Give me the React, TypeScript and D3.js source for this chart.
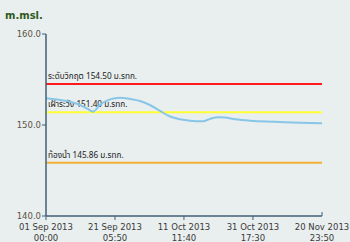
import React from "react";
import * as d3 from "d3";

const W = 350;
const H = 242;

const seriesDates = [
  "2013-09-01T00:00", "2013-09-05T02:00", "2013-09-08T00:00", "2013-09-11T00:00",
  "2013-09-13T07:00", "2013-09-14T19:00", "2013-09-16T19:00", "2013-09-19T19:00",
  "2013-09-22T17:00", "2013-09-25T14:00", "2013-09-28T14:00", "2013-10-01T12:00",
  "2013-10-04T12:00", "2013-10-07T10:00", "2013-10-10T07:00", "2013-10-13T07:00",
  "2013-10-17T02:00", "2013-10-19T02:00", "2013-10-21T12:00", "2013-10-23T12:00",
  "2013-10-26T12:00", "2013-10-30T22:00", "2013-11-07T05:00", "2013-11-14T12:00",
  "2013-11-20T23:50",
];
const seriesValues = [
  152.93, 152.75, 152.56, 152.2,
  151.76, 151.46, 152.2, 152.82,
  153.0, 152.86, 152.64, 152.2,
  151.54, 150.93, 150.63, 150.47,
  150.41, 150.66, 150.85, 150.82,
  150.63, 150.47, 150.36, 150.25,
  150.19,
];

const thresholdValues = [154.5, 151.4, 145.86];
const thresholdLabels = [
  "ระดับวิกฤต 154.50 ม.รทก.",
  "เฝ้าระวัง 151.40 ม.รทก.",
  "ท้องน้ำ 145.86 ม.รทก.",
];
const thresholdColors = ["#ff1a1a", "#ffff33", "#f2b134"];

const yTicks = [140, 150, 160];
const xTickDates = [
  "2013-09-01T00:00", "2013-09-21T05:50", "2013-10-11T11:40",
  "2013-10-31T17:30", "2013-11-20T23:50",
];
const xTickLine1 = ["01 Sep 2013", "21 Sep 2013", "11 Oct 2013", "31 Oct 2013", "20 Nov 2013"];
const xTickLine2 = ["00:00", "05:50", "11:40", "17:30", "23:50"];

const parse = (s: string) => new Date(s);

export default function App() {
  const x = d3
    .scaleTime()
    .domain([parse("2013-09-01T00:00"), parse("2013-11-20T23:50")])
    .range([46, 322]);
  const y = d3.scaleLinear().domain([140, 160]).range([216, 34]);

  const pts = seriesDates.map((d, i) => [parse(d), seriesValues[i]] as [Date, number]);
  const line = d3
    .line<[Date, number]>()
    .x((d) => x(d[0]))
    .y((d) => y(d[1]))
    .curve(d3.curveMonotoneX);

  const axisColor = "#3f6179";
  const font = "'DejaVu Sans', Verdana, sans-serif";

  return (
    <svg
      width={W}
      height={H}
      style={{ position: "absolute", left: 0, top: 0, display: "block" }}
      fontFamily={font}
    >
      <rect x={0} y={0} width={W} height={H} fill="#e9eeee" />
      <text x={5} y={19} fontSize={10} fontWeight="bold" fill="#2f5a22">
        m.msl.
      </text>

      {thresholdValues.map((v, i) => (
        <g key={i}>
          <line
            x1={x.range()[0]}
            x2={x.range()[1]}
            y1={y(v)}
            y2={y(v)}
            stroke={thresholdColors[i]}
            strokeWidth={2}
          />
          <text x={48} y={y(v) - 5} fontSize={8.2} fill="#222" fontFamily="'Noto Sans Thai', 'Noto Sans', 'DejaVu Sans', sans-serif">
            {thresholdLabels[i]}
          </text>
        </g>
      ))}

      <path d={line(pts) || ""} fill="none" stroke="#88c6e8" strokeWidth={2} />

      {/* y axis */}
      <line x1={46} x2={46} y1={y(160)} y2={y(140)} stroke={axisColor} strokeWidth={1.5} />
      {yTicks.map((t) => (
        <g key={t}>
          <line x1={42} x2={46} y1={y(t)} y2={y(t)} stroke={axisColor} strokeWidth={1} />
          <text
            x={41}
            y={y(t)}
            dy="0.35em"
            textAnchor="end"
            fontSize={8.5}
            fill="#5a5448"
          >
            {t.toFixed(1)}
          </text>
        </g>
      ))}

      {/* x axis */}
      <line x1={46} x2={322} y1={216} y2={216} stroke={axisColor} strokeWidth={1.5} />
      <line x1={322} x2={322} y1={212} y2={216} stroke={axisColor} strokeWidth={1} />
      {xTickDates.map((d, i) => {
        const px = x(parse(d));
        return (
          <g key={d}>
            {i < xTickDates.length - 1 && (
              <line x1={px} x2={px} y1={216} y2={220} stroke={axisColor} strokeWidth={1} />
            )}
            <text x={px} y={230} textAnchor="middle" fontSize={8.5} fill="#3a3a3a">
              {xTickLine1[i]}
            </text>
            <text x={px} y={240.5} textAnchor="middle" fontSize={8.5} fill="#3a3a3a">
              {xTickLine2[i]}
            </text>
          </g>
        );
      })}
    </svg>
  );
}
